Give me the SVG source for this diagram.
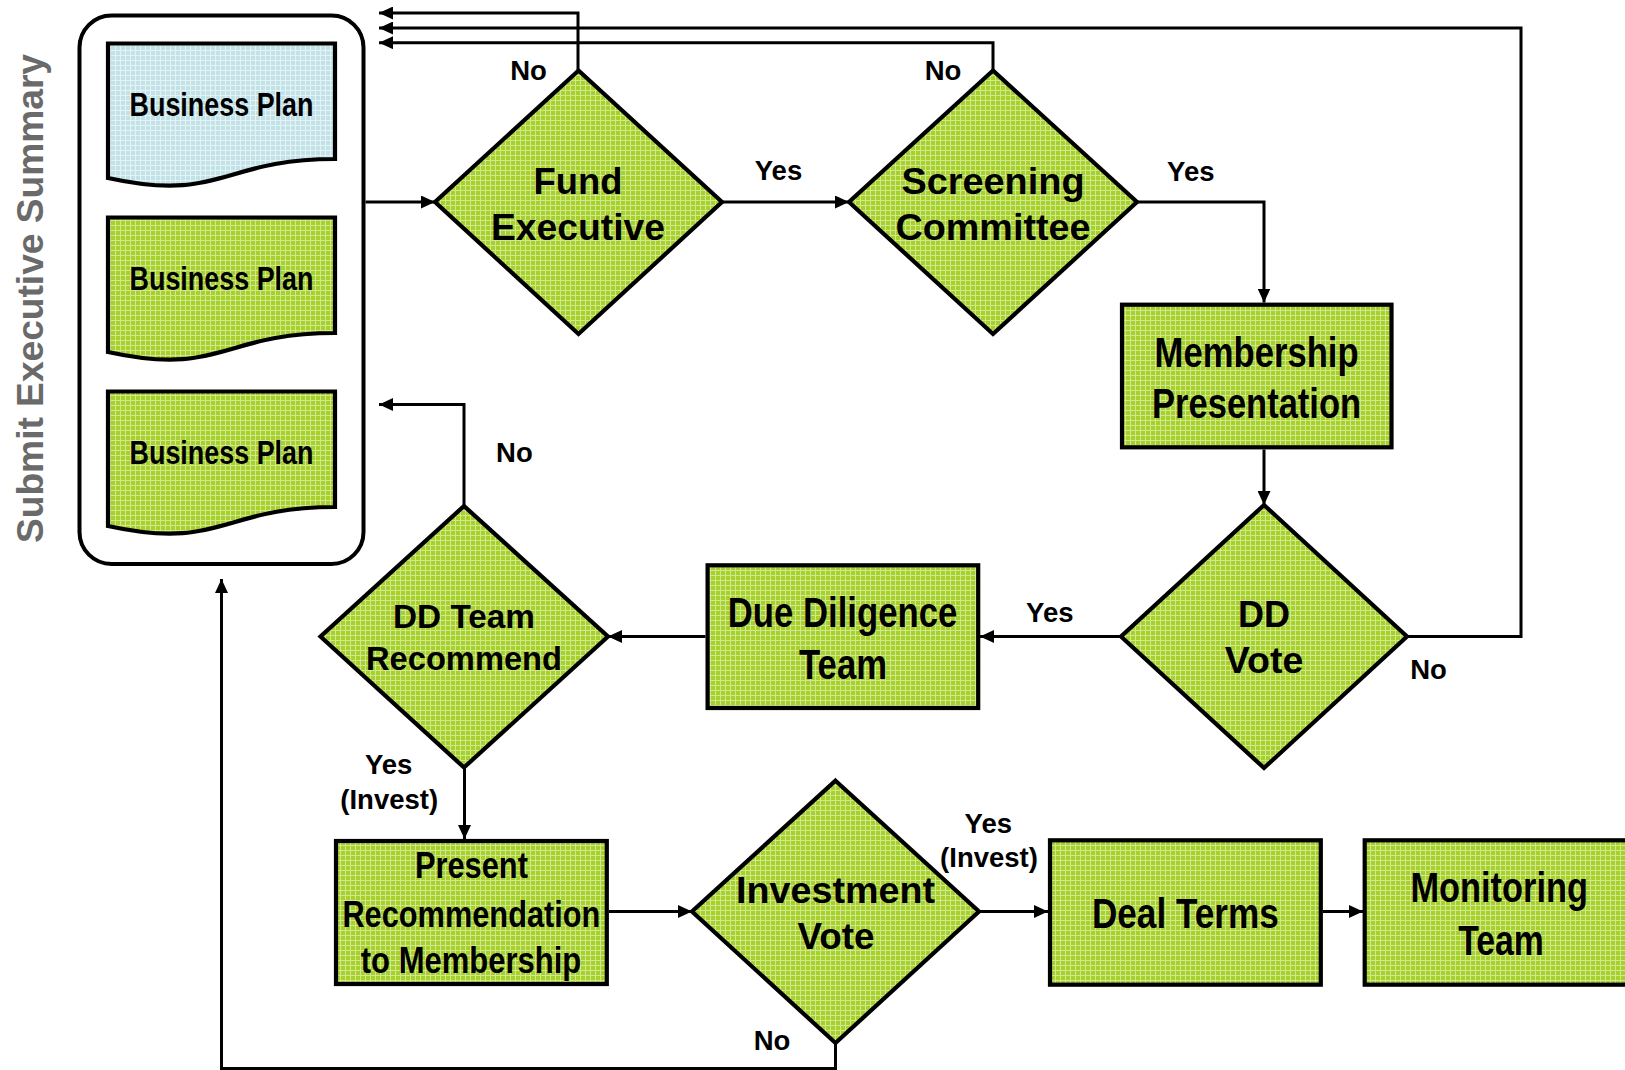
<svg xmlns="http://www.w3.org/2000/svg" width="1625" height="1070" viewBox="0 0 1625 1070">
<defs>
<pattern id="pg" width="5" height="5" patternUnits="userSpaceOnUse">
<rect width="5" height="5" fill="#a7d02f"/>
<rect width="5" height="1" fill="#cfe98c"/>
<rect width="1" height="5" fill="#cfe98c"/>
</pattern>
<pattern id="pb" width="5" height="5" patternUnits="userSpaceOnUse">
<rect width="5" height="5" fill="#c3e2e7"/>
<rect width="5" height="1" fill="#e4f3f5"/>
<rect width="1" height="5" fill="#e4f3f5"/>
</pattern>
<marker id="ah" markerUnits="userSpaceOnUse" markerWidth="14" markerHeight="13" refX="14" refY="6.5" orient="auto">
<path d="M0,0 L14,6.5 L0,13 Z" fill="#000"/>
</marker>
<style>
.shape{stroke:#000;stroke-width:4.2;fill:url(#pg);stroke-linejoin:miter}
.blue{fill:url(#pb)}
.box{fill:#fff;stroke:#000;stroke-width:4}
.conn{fill:none;stroke:#000;stroke-width:3;marker-end:url(#ah)}
.t{font-family:"Liberation Sans",Arial,sans-serif;font-weight:bold;text-anchor:middle;fill:#000}
.n{font-family:"Liberation Sans Narrow","Liberation Sans",Arial,sans-serif;font-weight:bold;text-anchor:middle;fill:#000}
.lbl{font-family:"Liberation Sans",Arial,sans-serif;font-weight:bold;text-anchor:middle;fill:#000;font-size:27.5px}
.side{font-family:"Liberation Sans",Arial,sans-serif;font-weight:bold;text-anchor:middle;fill:#6a6a6a;font-size:37.5px}
</style>
</defs>
<rect width="1625" height="1070" fill="#fff"/>

<text class="side" transform="translate(43,298.5) rotate(-90)" textLength="489" lengthAdjust="spacingAndGlyphs">Submit Executive Summary</text>

<g id="connectors">
<path class="conn" d="M365.5,202 H435"/>
<path class="conn" d="M722,202 H849"/>
<path class="conn" d="M1137,202 H1264 V302.5"/>
<path class="conn" d="M1264,449.5 V505"/>
<path class="conn" d="M1121,636.5 H980"/>
<path class="conn" d="M705.5,636.5 H608"/>
<path class="conn" d="M464.5,767.5 V839"/>
<path class="conn" d="M609,911.5 H692"/>
<path class="conn" d="M979,911.5 H1048"/>
<path class="conn" d="M1323,911.5 H1363"/>
<path class="conn" d="M578,70.5 V13 H379"/>
<path class="conn" d="M993,70.5 V42.7 H379"/>
<path class="conn" d="M1407,636.5 H1521 V28 H379"/>
<path class="conn" d="M464,506 V404.5 H379"/>
<path class="conn" d="M835.5,1043 V1068.5 H221.5 V579"/>
</g>

<g id="submit-container">
<rect class="box" x="79.5" y="15.5" width="284" height="548.5" rx="32" ry="32"/>
</g>

<g id="business-plan-1">
<path class="shape blue" d="M108,43.5 H335 V159 C221.5,159 221.5,203 108,178 Z"/>
<text class="n" x="221.5" y="115.5" font-size="33" textLength="184" lengthAdjust="spacingAndGlyphs">Business Plan</text>
</g>
<g id="business-plan-2">
<path class="shape" d="M108,217.5 H335 V333 C221.5,333 221.5,377 108,352 Z"/>
<text class="n" x="221.5" y="289.5" font-size="33" textLength="184" lengthAdjust="spacingAndGlyphs">Business Plan</text>
</g>
<g id="business-plan-3">
<path class="shape" d="M108,391.5 H335 V507 C221.5,507 221.5,551 108,526 Z"/>
<text class="n" x="221.5" y="463.5" font-size="33" textLength="184" lengthAdjust="spacingAndGlyphs">Business Plan</text>
</g>

<g id="fund-executive">
<path class="shape" d="M578.5,70.5 L722,202 L578.5,334 L435,202 Z"/>
<text class="t" x="578" y="194" font-size="37.5" textLength="89" lengthAdjust="spacingAndGlyphs">Fund</text>
<text class="t" x="578" y="240" font-size="37.5" textLength="174" lengthAdjust="spacingAndGlyphs">Executive</text>
</g>

<g id="screening-committee">
<path class="shape" d="M993,70.5 L1137,202 L993,334 L849,202 Z"/>
<text class="t" x="993" y="194" font-size="37.5" textLength="183" lengthAdjust="spacingAndGlyphs">Screening</text>
<text class="t" x="993" y="240" font-size="37.5" textLength="195" lengthAdjust="spacingAndGlyphs">Committee</text>
</g>

<g id="membership-presentation">
<rect class="shape" x="1122" y="304.7" width="269.5" height="142.6"/>
<text class="n" x="1256.6" y="366.7" font-size="42" textLength="204" lengthAdjust="spacingAndGlyphs">Membership</text>
<text class="n" x="1256.6" y="418.3" font-size="42" textLength="209" lengthAdjust="spacingAndGlyphs">Presentation</text>
</g>

<g id="dd-vote">
<path class="shape" d="M1264,505 L1407,636.5 L1264,768 L1121,636.5 Z"/>
<text class="t" x="1264" y="627.3" font-size="36" textLength="52" lengthAdjust="spacingAndGlyphs">DD</text>
<text class="t" x="1264" y="673.3" font-size="36" textLength="78.5" lengthAdjust="spacingAndGlyphs">Vote</text>
</g>

<g id="due-diligence-team">
<rect class="shape" x="707.6" y="565.3" width="270.6" height="142.7"/>
<text class="n" x="842.5" y="626.7" font-size="42" textLength="229.5" lengthAdjust="spacingAndGlyphs">Due Diligence</text>
<text class="n" x="843" y="679.3" font-size="42" textLength="88" lengthAdjust="spacingAndGlyphs">Team</text>
</g>

<g id="dd-team-recommend">
<path class="shape" d="M464,506 L608,636.5 L464,767.5 L320.5,636.5 Z"/>
<text class="t" x="464" y="628.3" font-size="32.5" textLength="142" lengthAdjust="spacingAndGlyphs">DD Team</text>
<text class="t" x="464" y="670" font-size="32.5" textLength="196" lengthAdjust="spacingAndGlyphs">Recommend</text>
</g>

<g id="present-recommendation">
<rect class="shape" x="336" y="841" width="270.8" height="143"/>
<text class="n" x="471.4" y="878.3" font-size="37" textLength="113" lengthAdjust="spacingAndGlyphs">Present</text>
<text class="n" x="471.4" y="926.7" font-size="37" textLength="258" lengthAdjust="spacingAndGlyphs">Recommendation</text>
<text class="n" x="471" y="973.3" font-size="37" textLength="220.5" lengthAdjust="spacingAndGlyphs">to Membership</text>
</g>

<g id="investment-vote">
<path class="shape" d="M835.5,780.7 L979,911.5 L835.5,1043 L692,911.5 Z"/>
<text class="t" x="835.5" y="902.7" font-size="36.5" textLength="199" lengthAdjust="spacingAndGlyphs">Investment</text>
<text class="t" x="836" y="949.3" font-size="36.5" textLength="77" lengthAdjust="spacingAndGlyphs">Vote</text>
</g>

<g id="deal-terms">
<rect class="shape" x="1050" y="840.3" width="270.8" height="144.4"/>
<text class="n" x="1185.4" y="928.3" font-size="42" textLength="187" lengthAdjust="spacingAndGlyphs">Deal Terms</text>
</g>

<g id="monitoring-team">
<rect class="shape" x="1364.7" y="840.3" width="271" height="144.4"/>
<text class="n" x="1499.2" y="901.7" font-size="42" textLength="177.4" lengthAdjust="spacingAndGlyphs">Monitoring</text>
<text class="n" x="1501" y="955" font-size="42" textLength="85.7" lengthAdjust="spacingAndGlyphs">Team</text>
</g>

<g id="labels">
<text class="lbl" x="528.5" y="80">No</text>
<text class="lbl" x="943" y="80">No</text>
<text class="lbl" x="778.5" y="180">Yes</text>
<text class="lbl" x="1190.8" y="180.5">Yes</text>
<text class="lbl" x="1049.8" y="621.7">Yes</text>
<text class="lbl" x="1428.5" y="679.3">No</text>
<text class="lbl" x="514.4" y="461.7">No</text>
<text class="lbl" x="388.6" y="774.3">Yes</text>
<text class="lbl" x="389.2" y="808.8">(Invest)</text>
<text class="lbl" x="988.3" y="832.7">Yes</text>
<text class="lbl" x="989" y="867.3">(Invest)</text>
<text class="lbl" x="772" y="1050">No</text>
</g>
</svg>
